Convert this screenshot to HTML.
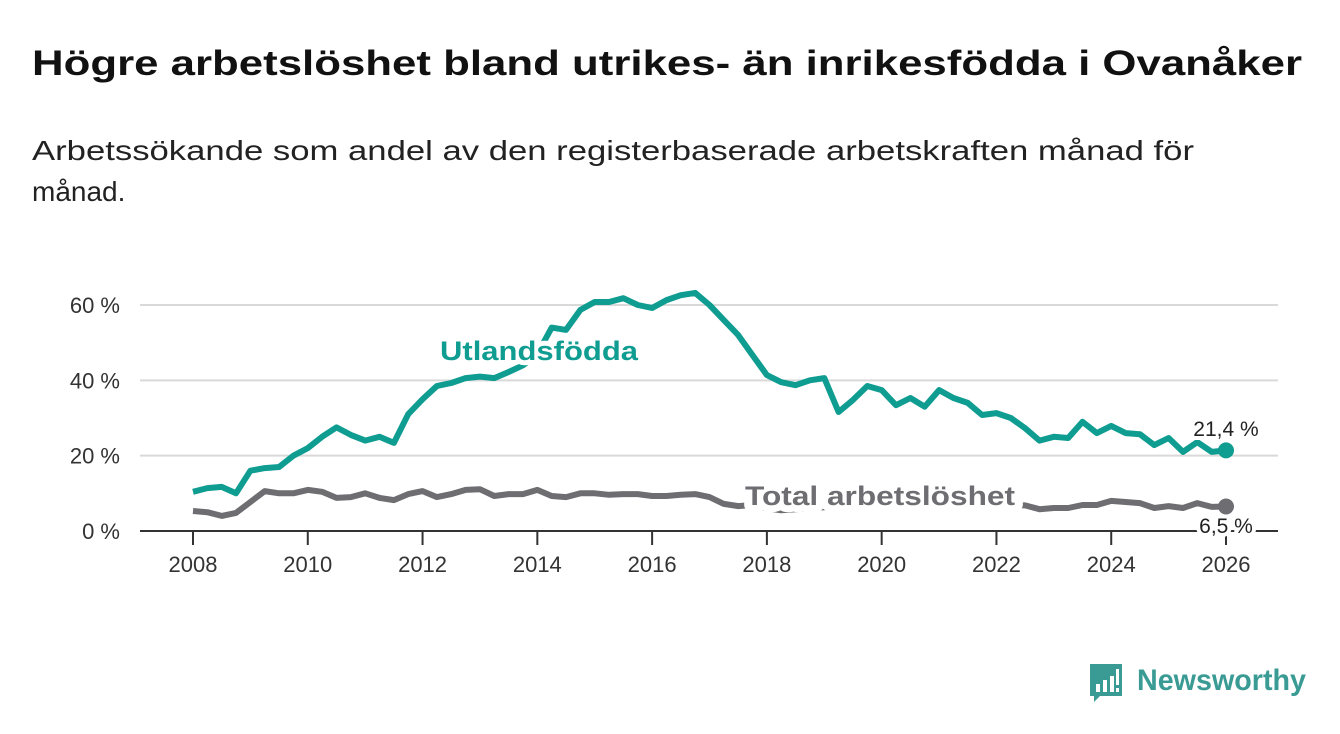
<!DOCTYPE html>
<html><head><meta charset="utf-8">
<style>
html,body{margin:0;padding:0;background:#fff;}
svg{display:block;font-family:"Liberation Sans","DejaVu Sans",sans-serif;}
</style></head>
<body>
<svg id="chart" width="1340" height="734" viewBox="0 0 1340 734">
  <text x="32" y="75" font-size="35" font-weight="bold" fill="#111" textLength="1270" lengthAdjust="spacingAndGlyphs">Högre arbetslöshet bland utrikes- än inrikesfödda i Ovanåker</text>
  <text x="32" y="160" font-size="28" fill="#222" textLength="1162" lengthAdjust="spacingAndGlyphs">Arbetssökande som andel av den registerbaserade arbetskraften månad för</text>
  <text x="32" y="201" font-size="28" fill="#222">månad.</text>
  <g id="grid"></g>
  <g id="yaxis"></g>
  <g id="xaxis"></g>
  <g id="series"></g>
  <g id="labels"></g>
  <g>
    <path d="M1090 664 h32 v32 h-22 l-6 6 v-6 h-4 z" fill="#3a9b95"/>
    <rect x="1096" y="684" width="4" height="8" fill="#fff"/>
    <rect x="1103" y="680" width="4" height="12" fill="#fff"/>
    <rect x="1110" y="676" width="4" height="16" fill="#fff"/>
    <rect x="1116" y="669" width="3" height="16" fill="#fff"/>
    <rect x="1116" y="688" width="3" height="4" fill="#fff"/>
    <text x="1137" y="690" font-size="30" font-weight="bold" fill="#3a9b95" textLength="169" lengthAdjust="spacingAndGlyphs">Newsworthy</text>
  </g>
</svg>
<script>
const years = [2008,2010,2012,2014,2016,2018,2020,2022,2024,2026];
const yTicks = [0,20,40,60];
const yTickLabels = ["0 %","20 %","40 %","60 %"];
const startYear = 2008;
const stepYear = 0.25;
const utlandsfodda = [10.4,11.4,11.7,10,16,16.7,17,20,22,25,27.5,25.5,24,25,23.4,31,35,38.5,39.3,40.6,41,40.6,42.2,44,47,54,53.4,58.7,60.8,60.8,61.8,60,59.2,61.3,62.6,63.2,60,56,52,46.7,41.4,39.5,38.7,40,40.6,31.6,34.8,38.5,37.4,33.4,35.3,33,37.4,35.3,34,30.8,31.3,30,27.3,24,25,24.7,29,26,27.9,26,25.7,22.8,24.7,21,23.6,21,21.4];
const total = [5.3,5,4,4.8,7.7,10.6,10,10,10.9,10.4,8.8,9,10,8.8,8.2,9.8,10.6,9,9.8,10.9,11.1,9.3,9.8,9.8,10.9,9.3,9,10,10,9.6,9.8,9.8,9.3,9.3,9.6,9.8,9,7.2,6.6,6.9,6,5.5,5.8,6,6.3,6.8,7,7.2,7,6.8,7,7.2,7,6.8,6.6,6.8,6.6,6.9,6.8,5.8,6.1,6.1,6.9,6.9,8,7.7,7.4,6.1,6.6,6.1,7.4,6.4,6.5];
const lastLabels = ["21,4 %","6,5 %"];

const NS="http://www.w3.org/2000/svg";
const X0=140,X1=1278;
function xs(yr){return 193+(yr-2008)*(1226-193)/18;}
function ys(v){return 531-v*(531-305)/60;}
function mk(tag,attrs,parent){const e=document.createElementNS(NS,tag);for(const k in attrs)e.setAttribute(k,attrs[k]);parent.appendChild(e);return e;}
const grid=document.getElementById('grid'),ya=document.getElementById('yaxis'),xa=document.getElementById('xaxis'),se=document.getElementById('series'),lb=document.getElementById('labels');
yTicks.forEach((t,i)=>{
  if(t>0){const l=mk('line',{x1:X0,x2:X1,y1:ys(t),y2:ys(t),stroke:'#d9d9d9','stroke-width':2},grid);
  
  }
  const tx=mk('text',{x:120,y:ys(t)+8,'text-anchor':'end','font-size':22,fill:'#333'},ya);
  tx.textContent=yTickLabels[i];
  
  
});
const ax=mk('line',{x1:X0,x2:X1,y1:531,y2:531,stroke:'#333','stroke-width':2},xa);


years.forEach(yr=>{
  const tk=mk('line',{x1:xs(yr),x2:xs(yr),y1:531,y2:545,stroke:'#333','stroke-width':2},xa);
  
  
  const tx=mk('text',{x:xs(yr),y:572,'text-anchor':'middle','font-size':22,fill:'#333'},xa);
  tx.textContent=yr;
  
  
});
function pathOf(arr){return arr.map((v,i)=>(i?'L':'M')+xs(startYear+i*stepYear).toFixed(1)+' '+ys(v).toFixed(1)).join(' ');}
const pt=mk('path',{d:pathOf(total),fill:'none',stroke:'#6e6d72','stroke-width':6,'stroke-linejoin':'round'},se);


const pu=mk('path',{d:pathOf(utlandsfodda),fill:'none',stroke:'#0f9c91','stroke-width':6,'stroke-linejoin':'round'},se);


const d1=mk('circle',{cx:xs(startYear+(utlandsfodda.length-1)*stepYear),cy:ys(utlandsfodda[utlandsfodda.length-1]),r:8,fill:'#0f9c91'},se);


const d2=mk('circle',{cx:xs(startYear+(total.length-1)*stepYear),cy:ys(total[total.length-1]),r:8,fill:'#6e6d72'},se);


function label(txt,x,y,size,w,col,name,anchor,len,sw){
  const t=mk('text',{x:x,y:y,'font-size':size,'font-weight':w,fill:col,stroke:'#fff','stroke-width':sw||8,'paint-order':'stroke','stroke-linejoin':'round','text-anchor':anchor||'start'},lb);
  if(len){t.setAttribute('textLength',len);t.setAttribute('lengthAdjust','spacingAndGlyphs');}
  t.textContent=txt;
  
  
}
label('Utlandsfödda',440,360,27,'bold','#0f9c91','utlandsfodda-label','start',198,10);
label('Total arbetslöshet',745,505,27,'bold','#6e6d72','total-label','start',270,14);
label(lastLabels[0],1226,436,21,'normal','#222','utlandsfodda-last-value','middle');
label(lastLabels[1],1226,533,21,'normal','#222','total-last-value','middle');
</script>
</body></html>
